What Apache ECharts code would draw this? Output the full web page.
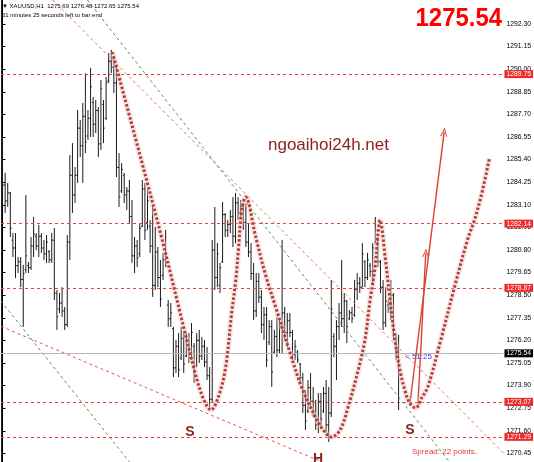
<!DOCTYPE html>
<html>
<head>
<meta charset="utf-8">
<script src="https://cdn.jsdelivr.net/npm/echarts@6/dist/echarts.min.js"></script>
<style>
  html, body { margin: 0; padding: 0; background: #fff; }
  #chart { width: 534px; height: 462px; }
</style>
</head>
<body>
<div id="chart"></div>
<script>
// XAUUSD H1 bars, oldest first
const opens = [
  1285.80,1284.10,1283.30,1283.70,1281.30,1280.90,1280.00,1280.20,1279.30,1279.80,
  1280.00,1279.90,1281.00,1281.50,1281.00,1281.50,1280.90,1280.60,1280.70,1280.30,
  1281.30,1278.60,1277.80,1278.10,1277.70,1277.00,1281.20,1284.60,1283.60,1284.60,
  1287.00,1286.10,1287.60,1286.60,1287.50,1288.30,1287.20,1287.90,1286.20,1288.20,
  1287.50,1289.40,1290.40,1290.10,1289.30,1285.00,1283.80,1284.60,1283.60,1283.80,
  1282.50,1280.50,1281.00,1280.60,1282.00,1283.90,1282.20,1282.00,1281.00,1279.00,
  1280.70,1279.40,1279.50,1280.30,1278.00,1277.30,1276.80,1274.80,1275.90,1275.30,
  1276.30,1275.40,1276.20,1275.30,1275.90,1274.90,1276.20,1275.40,1275.90,1275.10,
  1274.40,1273.20,1280.80,1279.40,1279.00,1280.20,1282.60,1281.80,1282.10,1282.50,
  1281.50,1283.20,1282.70,1283.00,1282.20,1281.20,1280.70,1279.60,1277.70,1279.20,
  1278.40,1277.00,1277.50,1276.10,1276.90,1275.60,1276.40,1275.70,1276.90,1277.60,
  1276.60,1277.20,1276.60,1275.50,1275.60,1275.00,1274.30,1272.90,1272.60,1273.80,
  1273.10,1272.60,1271.90,1273.10,1272.60,1273.50,1271.90,1272.50,1276.40,1275.90,
  1276.90,1277.60,1277.30,1278.20,1277.30,1277.60,1277.50,1278.80,1279.10,1278.90,
  1280.20,1279.40,1280.00,1279.70,1281.20,1281.40,1280.20,1278.90,1277.10,1278.00,
  1277.80,1278.50,1276.50,1275.69
];
const highs = [
  1286.55,1284.72,1284.21,1283.75,1281.66,1281.66,1280.44,1280.44,1280.04,1283.60,
  1280.19,1281.46,1282.48,1281.66,1282.07,1281.66,1281.31,1281.56,1280.80,1281.66,
  1281.92,1278.76,1278.61,1278.91,1277.90,1281.56,1285.63,1286.24,1285.02,1287.92,
  1287.41,1288.28,1289.80,1287.92,1290.06,1288.58,1288.43,1288.07,1289.45,1288.43,
  1289.60,1290.82,1290.98,1290.62,1290.11,1285.73,1285.22,1284.72,1284.00,1284.36,
  1283.34,1281.46,1281.31,1282.17,1284.36,1284.21,1283.85,1282.32,1282.99,1281.97,
  1280.95,1280.29,1280.65,1281.82,1278.25,1278.10,1276.88,1276.22,1276.57,1276.88,
  1276.57,1276.57,1276.57,1277.08,1276.06,1276.57,1276.73,1276.37,1276.22,1275.86,
  1274.84,1281.31,1282.99,1281.15,1280.14,1283.24,1282.68,1282.32,1282.83,1283.49,
  1283.70,1283.49,1283.34,1283.19,1283.19,1282.17,1281.15,1280.14,1279.63,1279.63,
  1278.76,1277.90,1277.90,1277.23,1277.23,1276.73,1277.39,1277.23,1281.31,1277.90,
  1277.59,1277.59,1276.73,1276.22,1275.71,1275.05,1274.54,1273.67,1274.18,1274.54,
  1273.83,1273.17,1273.52,1273.52,1273.83,1274.18,1273.83,1279.27,1276.57,1277.23,
  1278.10,1280.29,1278.61,1278.25,1277.74,1277.90,1279.27,1279.63,1279.42,1281.15,
  1280.29,1280.65,1280.14,1281.15,1282.48,1281.46,1280.29,1279.27,1278.91,1278.25,
  1279.27,1278.61,1276.57,1276.48
];
const lows = [
  1283.19,1282.68,1282.99,1281.46,1280.44,1279.37,1279.63,1278.91,1276.88,1279.63,
  1279.63,1279.78,1280.44,1280.80,1280.44,1280.65,1280.29,1280.14,1280.14,1280.14,
  1278.25,1276.73,1277.59,1277.39,1276.73,1276.88,1280.29,1282.68,1283.19,1284.21,
  1285.53,1284.21,1285.73,1286.40,1286.55,1286.55,1286.75,1285.53,1285.89,1286.24,
  1287.41,1289.30,1289.80,1288.79,1284.51,1282.99,1283.70,1283.19,1282.83,1282.17,
  1280.14,1279.63,1279.93,1280.44,1281.97,1281.31,1281.82,1280.65,1278.41,1278.76,
  1278.91,1277.90,1279.27,1279.93,1276.88,1276.88,1274.33,1274.54,1274.33,1275.20,
  1274.54,1275.35,1275.05,1275.20,1274.03,1274.84,1275.05,1275.20,1274.84,1274.18,
  1272.66,1273.06,1278.76,1278.91,1278.61,1280.14,1281.46,1281.46,1281.66,1280.95,
  1281.15,1282.32,1282.48,1281.82,1280.95,1280.44,1279.27,1277.23,1277.39,1278.10,
  1276.57,1276.22,1274.84,1275.96,1273.83,1275.54,1275.35,1275.54,1275.54,1276.22,
  1275.86,1276.37,1275.20,1275.20,1275.05,1274.03,1272.50,1271.64,1272.50,1272.81,
  1272.30,1271.64,1271.48,1271.79,1272.50,1271.48,1271.03,1272.30,1275.35,1274.18,
  1276.22,1276.88,1276.57,1276.06,1277.23,1277.08,1277.39,1278.25,1278.61,1278.91,
  1278.91,1279.27,1279.42,1279.12,1281.15,1279.93,1278.61,1276.73,1276.88,1277.59,
  1277.23,1276.22,1275.20,1272.65
];
const closes = [
  1284.10,1283.30,1283.70,1281.90,1280.90,1280.00,1280.20,1279.30,1279.60,1280.50,
  1279.90,1281.00,1281.60,1281.00,1281.50,1280.90,1280.60,1281.20,1280.30,1281.30,
  1278.60,1277.40,1278.10,1277.70,1277.00,1281.20,1284.60,1283.60,1284.60,1287.00,
  1286.10,1287.60,1286.30,1287.50,1289.10,1287.20,1287.90,1286.20,1289.00,1287.00,
  1289.30,1290.40,1290.10,1289.30,1285.00,1283.50,1284.90,1283.60,1283.80,1282.50,
  1280.50,1281.00,1280.40,1281.90,1283.90,1281.80,1283.30,1281.00,1279.00,1280.70,
  1279.40,1278.30,1280.30,1280.00,1277.30,1277.60,1274.80,1275.90,1274.70,1276.30,
  1275.00,1276.20,1275.30,1276.60,1274.40,1276.20,1275.40,1275.90,1275.10,1274.40,
  1273.20,1280.80,1279.40,1280.60,1279.90,1282.60,1281.80,1282.10,1282.50,1281.50,
  1283.20,1282.70,1283.00,1282.20,1281.20,1280.70,1279.60,1277.70,1279.20,1278.40,
  1277.00,1277.50,1275.20,1276.90,1274.60,1276.40,1275.70,1276.90,1277.60,1276.60,
  1277.20,1276.60,1275.50,1275.90,1275.20,1274.30,1272.90,1272.10,1273.80,1273.10,
  1272.60,1271.90,1273.10,1272.20,1273.50,1271.90,1272.50,1277.80,1275.90,1276.90,
  1277.60,1277.30,1278.20,1276.90,1277.60,1277.30,1278.80,1279.10,1278.90,1280.60,
  1279.40,1280.30,1279.70,1280.90,1281.80,1280.20,1278.90,1277.10,1278.20,1277.80,
  1278.50,1276.50,1275.70,1275.54
];

// price scale labels
const priceTicks = [1270.45,1271.60,1272.75,1273.90,1275.05,1276.20,1277.35,1278.50,1279.65,1280.80,
  1281.95,1283.10,1284.25,1285.40,1286.55,1287.70,1288.85,1290.00,1291.15,1292.30];
// horizontal levels drawn on the chart
const levelValues = [1289.75, 1282.14, 1278.87, 1273.07, 1271.29];
const lastPrice = 1275.54;

// head & shoulders sketch: [bar index, price]
const patternPath = [
  [42.4,1290.87],[60.5,1281.92],[74.3,1274.59],[77.8,1273.16],[80.5,1272.66],
  [83.6,1273.42],[86.2,1274.84],[88.5,1277.59],[90.1,1279.27],[91.2,1280.95],[92.4,1282.83],[93.9,1283.49],
  [97.8,1281.46],[101.6,1279.53],[105.5,1277.90],[111.6,1275.35],[115.5,1273.83],[120.8,1272.30],[123.9,1271.64],[127.0,1271.28],
  [130.4,1271.64],[133.5,1272.81],[137.4,1274.69],[140.0,1276.22],[142.0,1278.25],[143.9,1279.93],[145.0,1281.56],[145.8,1282.32],
  [147.8,1280.44],[149.7,1278.25],[151.6,1276.22],[153.5,1274.69],[155.4,1273.67],[157.3,1273.01],[159.6,1272.76],
  [161.9,1273.27],[164.3,1273.83],[169.3,1276.22],[174.6,1278.91],[179.6,1281.31],[182.3,1282.32],[185.0,1283.60],[188.1,1285.48]
];
// target arrows: [from, to]
const arrowLong = [[157.3,1272.91],[170.6,1286.80]];
const arrowShort = [[160.4,1272.76],[163.5,1280.65]];
// trend lines
const trendRedUpper = [[19.4,1293.52],[193.5,1270.47]];
const trendGreenUpper = [[32.8,1293.52],[172.7,1270.01]];
const trendRedLower = [[-0.6,1276.91],[123.5,1270.01]];
const trendGreenLower = [[-0.6,1278.20],[49.0,1270.01]];

const last = opens.length - 1;
const fmt = v => v.toFixed(2);
const chevron = 'path://M0,10 L5,0 L10,10 L8.6,10 L5,2.6 L1.4,10 Z';

const chart = echarts.init(document.getElementById('chart'));

function trend(data, color) {
  return {
    type: 'line', data: data, symbol: 'none', silent: true, z: 4,
    lineStyle: { color: color, width: 1, type: [3, 3] }
  };
}

const levelMarks = levelValues.map(v => ({
  yAxis: v,
  lineStyle: { color: '#e8403c', type: [3, 3], width: 1 },
  label: { formatter: fmt(v), backgroundColor: '#ee2a2a', color: '#fff' }
}));
levelMarks.push({
  yAxis: lastPrice,
  lineStyle: { color: '#b8b8b8', type: 'solid', width: 1 },
  label: { formatter: fmt(lastPrice), backgroundColor: '#000', color: '#fff' }
});

chart.setOption({
  animation: false,
  backgroundColor: '#fff',
  grid: { left: 1, right: 28, top: 0, bottom: 0 },
  xAxis: { type: 'value', min: -0.6, max: 193.5, show: false },
  yAxis: [{
    type: 'value', position: 'right', min: 1270.01, max: 1293.52,
    splitLine: { show: false },
    axisLine: { show: true, lineStyle: { color: '#000', width: 1 } },
    axisTick: { show: true, customValues: priceTicks, length: 3, lineStyle: { color: '#000' } },
    axisLabel: {
      customValues: priceTicks, formatter: fmt, margin: 3,
      fontSize: 6.8, color: '#000', fontFamily: 'Liberation Sans'
    }
  }, {
    type: 'value', position: 'left', min: 1270.01, max: 1293.52,
    splitLine: { show: false }, axisTick: { show: false }, axisLabel: { show: false },
    axisLine: { show: true, lineStyle: { color: '#222', width: 1 } }
  }],
  series: [
    {
      type: 'custom',
      name: 'XAUUSD',
      z: 3,
      silent: true,
      data: opens.map((o, i) => [i, o, highs[i], lows[i], closes[i]]),
      encode: { x: 0, y: [1, 2, 3, 4] },
      renderItem: function (params, api) {
        const i = api.value(0);
        const pO = api.coord([i, api.value(1)]);
        const pH = api.coord([i, api.value(2)]);
        const pL = api.coord([i, api.value(3)]);
        const pC = api.coord([i, api.value(4)]);
        const x = pH[0];
        const st = { stroke: '#1c1c1c', lineWidth: 1 };
        return {
          type: 'group',
          children: [
            { type: 'line', shape: { x1: x, y1: pH[1], x2: x, y2: pL[1] }, style: st },
            { type: 'line', shape: { x1: x - 1.3, y1: pO[1], x2: x, y2: pO[1] }, style: st },
            { type: 'line', shape: { x1: x, y1: pC[1], x2: x + 1.3, y2: pC[1] }, style: st }
          ]
        };
      }
    },
    trend(trendRedUpper, '#e87070'),
    trend(trendGreenUpper, '#4f9a4f'),
    trend(trendRedLower, '#e05a5a'),
    trend(trendGreenLower, '#4f9a4f'),
    {
      type: 'line', data: patternPath, smooth: 0.35, symbol: 'none', silent: true, z: 5,
      lineStyle: { width: 6, color: 'rgba(232,208,208,0.45)' },
      markLine: {
        silent: true, symbol: 'none',
        label: {
          show: true, position: 'end', distance: 1, padding: [1, 2, 0, 2],
          fontSize: 6.8, fontFamily: 'Liberation Sans'
        },
        data: levelMarks
      }
    },
    {
      type: 'line', data: patternPath, smooth: 0.35, symbol: 'none', silent: true, z: 6,
      lineStyle: { width: 3, color: '#b83c36', type: [2.5, 2], cap: 'butt' },
      markLine: {
        silent: true,
        symbol: ['none', chevron],
        symbolSize: [7, 9],
        label: { show: false },
        lineStyle: { color: '#d9432f', width: 1.4, type: 'solid' },
        data: [
          [{ coord: arrowLong[0] }, { coord: arrowLong[1] }],
          [{ coord: arrowShort[0] }, { coord: arrowShort[1] }]
        ]
      }
    }
  ],
  graphic: [
    {
      type: 'text', left: 2, top: 3,
      style: {
        text: '\u25BC XAUUSD,H1  ' + [opens[last], highs[last], lows[last], closes[last]].map(fmt).join(' '),
        font: '6px "Liberation Sans"', fill: '#000'
      }
    },
    {
      type: 'text', left: 2, top: 12,
      style: { text: '51 minutes 25 seconds left to bar end', font: '6px "Liberation Sans"', fill: '#000' }
    },
    {
      type: 'text', x: 502, y: 19, scaleX: 0.92,
      style: { text: fmt(lastPrice), font: 'bold 26px "Liberation Sans"', fill: '#f00', align: 'right', verticalAlign: 'middle' }
    },
    {
      type: 'text', x: 268, y: 145,
      style: { text: 'ngoaihoi24h.net', font: '17px "Liberation Sans"', fill: '#8b1e1e', verticalAlign: 'middle' }
    },
    {
      type: 'text', x: 190, y: 432,
      style: { text: 'S', font: 'bold 14px "Liberation Sans"', fill: '#8a2424', align: 'center', verticalAlign: 'middle' }
    },
    {
      type: 'text', x: 318, y: 459,
      style: { text: 'H', font: 'bold 14px "Liberation Sans"', fill: '#8a2424', align: 'center', verticalAlign: 'middle' }
    },
    {
      type: 'text', x: 410, y: 430,
      style: { text: 'S', font: 'bold 14px "Liberation Sans"', fill: '#8a2424', align: 'center', verticalAlign: 'middle' }
    },
    {
      type: 'text', x: 405, y: 357,
      style: { text: '< 51:25', font: '8px "Liberation Sans"', fill: '#3c3cd8', verticalAlign: 'middle' }
    },
    {
      type: 'text', x: 412, y: 452,
      style: { text: 'Spread: 22 points.', font: '8px "Liberation Sans"', fill: '#e83434', verticalAlign: 'middle' }
    }
  ]
});
</script>
</body>
</html>
